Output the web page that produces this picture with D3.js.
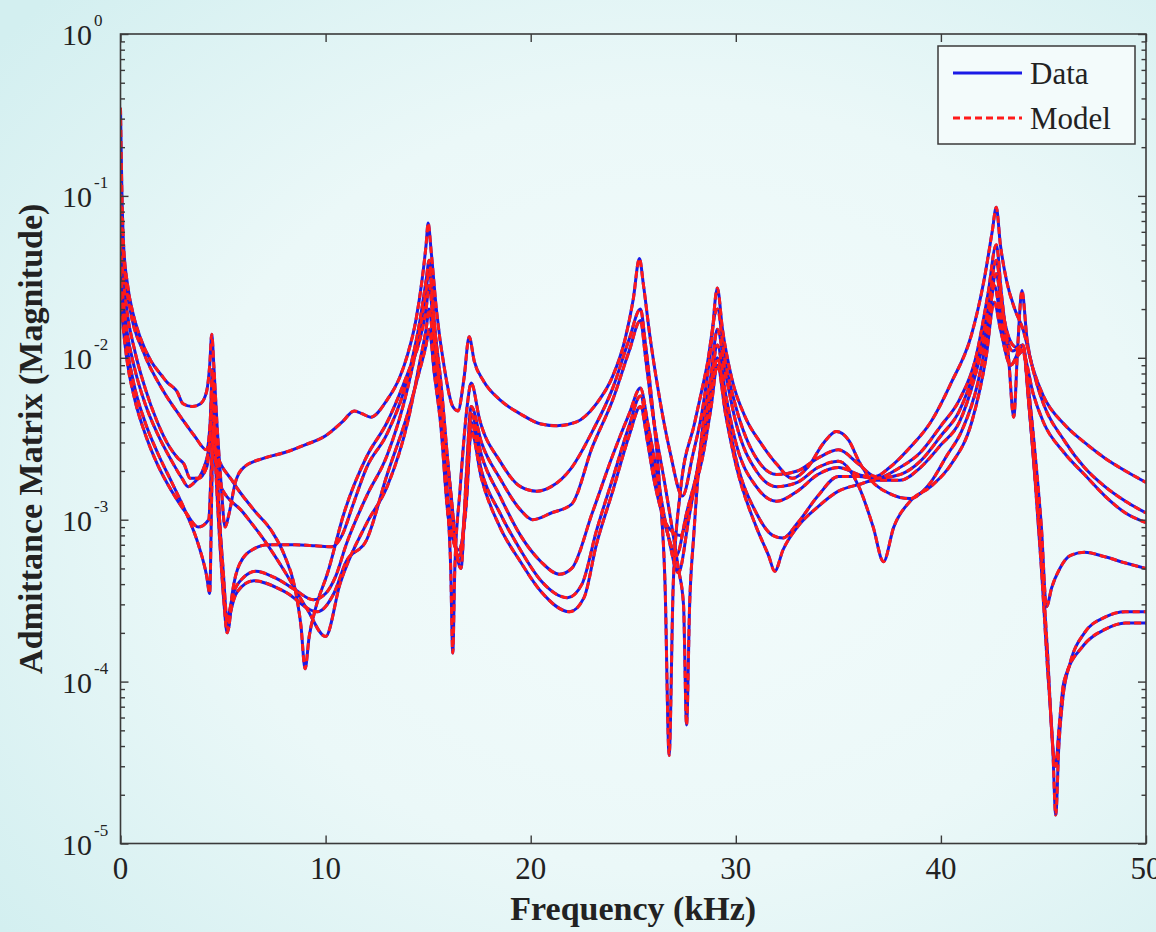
<!DOCTYPE html>
<html><head><meta charset="utf-8">
<script src="https://cdnjs.cloudflare.com/ajax/libs/d3/7.8.5/d3.min.js"></script>
<style>html,body{margin:0;padding:0;background:#e6f6f6;}svg{display:block;}</style>
</head><body>
<svg id="chart" width="1156" height="932"></svg>
<script>
// ---------- data (frequency kHz, admittance magnitude) ----------
const curve1 = [[0,0.35],[0.06,0.12],[0.15,0.05],[0.35,0.028],[0.6,0.019],[0.95,0.0135],[1.5,0.0095],[2.0,0.0078],[2.3,0.007],[2.55,0.0066],[2.75,0.0062],[3.05,0.0052],[3.5,0.005],[3.9,0.0052],[4.2,0.0062],[4.35,0.009],[4.45,0.014],[4.55,0.009],[4.7,0.004],[4.9,0.0017],[5.1,0.0009],[5.3,0.0011],[5.6,0.0017],[6.0,0.0021],[7.0,0.0024],[8.0,0.0026],[9.0,0.0029],[10.0,0.0033],[10.8,0.004],[11.4,0.0047],[11.8,0.0045],[12.2,0.0043],[13.0,0.0055],[13.6,0.0075],[14.0,0.0105],[14.4,0.017],[14.7,0.03],[14.9,0.05],[15.0,0.068],[15.15,0.045],[15.4,0.02],[15.8,0.0085],[16.2,0.005],[16.45,0.0047],[16.75,0.0075],[17.0,0.0135],[17.25,0.0095],[17.7,0.0072],[18.5,0.0055],[19.5,0.0045],[20.5,0.0039],[21.3,0.0038],[22.2,0.004],[23.2,0.0052],[24.0,0.0077],[24.6,0.013],[25.0,0.023],[25.3,0.041],[25.5,0.028],[25.8,0.014],[26.2,0.0065],[26.8,0.0026],[27.4,0.0014],[27.9,0.0025],[28.4,0.005],[28.8,0.012],[29.1,0.027],[29.35,0.015],[29.8,0.0075],[30.5,0.0042],[31.2,0.003],[32.0,0.0022],[32.75,0.0018],[33.5,0.0021],[34.3,0.003],[34.9,0.0035],[35.5,0.0031],[36.0,0.0023],[36.6,0.00175],[37.5,0.00145],[38.5,0.00135],[39.5,0.0017],[40.3,0.0025],[41.0,0.0035],[41.8,0.007],[42.3,0.015],[42.6,0.028],[42.9,0.018],[43.4,0.009],[43.8,0.011],[44.0,0.012],[44.3,0.006],[44.6,0.0025],[44.9,0.0009],[45.15,0.00029],[45.4,0.00038],[45.8,0.0005],[46.3,0.0006],[47.0,0.00063],[48.0,0.00059],[49.0,0.00054],[50.0,0.0005]];
const curve2 = [[0,0.12],[0.08,0.06],[0.2,0.035],[0.5,0.019],[1.1,0.011],[2.0,0.0065],[3.0,0.0042],[3.6,0.0033],[4.2,0.0027],[4.38,0.0042],[4.48,0.0085],[4.58,0.005],[4.75,0.0015],[5.0,0.0005],[5.25,0.00021],[5.45,0.00035],[5.8,0.00053],[6.5,0.00066],[7.2,0.0007],[8.5,0.0007],[9.5,0.00069],[10.3,0.00068],[10.8,0.0008],[11.3,0.0012],[12.0,0.0021],[13.0,0.0034],[14.0,0.0075],[14.6,0.017],[14.9,0.03],[15.05,0.04],[15.25,0.02],[15.5,0.008],[15.9,0.0015],[16.1,0.0005],[16.2,0.00015],[16.3,0.0005],[16.55,0.0015],[16.9,0.005],[17.1,0.007],[17.5,0.0042],[18.5,0.0023],[19.5,0.0016],[20.3,0.0015],[21.0,0.0016],[22.0,0.0021],[23.0,0.0035],[24.0,0.0065],[24.8,0.013],[25.35,0.02],[25.6,0.012],[25.9,0.0055],[26.3,0.0015],[26.55,0.0004],[26.75,0.000035],[26.95,0.0004],[27.3,0.0015],[28.0,0.004],[28.6,0.009],[29.1,0.02],[29.45,0.01],[30.0,0.005],[31.0,0.0024],[32.0,0.0019],[33.0,0.002],[34.0,0.0024],[35.0,0.0027],[36.0,0.0022],[36.8,0.00185],[37.5,0.0021],[38.5,0.0028],[39.5,0.004],[40.5,0.007],[41.5,0.014],[42.1,0.03],[42.5,0.06],[42.7,0.085],[42.9,0.05],[43.2,0.03],[43.6,0.02],[44.0,0.015],[44.5,0.0085],[45.0,0.0058],[46.0,0.0039],[47.0,0.003],[48.0,0.0024],[49.0,0.002],[50.0,0.0017]];
const curve3 = [[0,0.05],[0.1,0.035],[0.3,0.02],[0.7,0.011],[1.2,0.0065],[1.8,0.004],[2.4,0.0028],[2.8,0.0024],[3.1,0.0022],[3.4,0.0018],[3.8,0.0018],[4.2,0.0021],[4.38,0.0035],[4.5,0.008],[4.6,0.004],[4.8,0.0012],[5.0,0.0004],[5.2,0.00025],[5.5,0.00035],[6.0,0.00044],[6.6,0.00048],[7.5,0.00044],[8.5,0.00037],[9.4,0.00032],[10.0,0.00035],[10.5,0.00045],[11.0,0.0007],[12.0,0.0014],[13.0,0.0025],[14.0,0.0065],[14.6,0.015],[14.9,0.026],[15.05,0.035],[15.3,0.016],[15.6,0.0075],[16.0,0.002],[16.4,0.0006],[16.6,0.0005],[16.85,0.0018],[17.1,0.005],[17.6,0.003],[18.5,0.0018],[19.5,0.00115],[20.1,0.001],[21.0,0.0011],[22.0,0.00125],[23.0,0.0028],[24.0,0.0055],[24.8,0.011],[25.35,0.017],[25.6,0.01],[25.9,0.005],[26.6,0.0015],[27.2,0.0005],[27.45,0.0003],[27.6,0.000054],[27.75,0.0003],[27.95,0.0008],[28.3,0.003],[28.8,0.008],[29.1,0.015],[29.5,0.008],[30.0,0.004],[31.0,0.002],[32.0,0.0016],[33.0,0.0017],[34.0,0.0021],[35.0,0.0023],[36.0,0.0016],[36.7,0.0009],[37.2,0.00055],[37.7,0.0009],[38.5,0.0013],[39.5,0.0016],[40.5,0.0022],[41.5,0.004],[42.2,0.01],[42.6,0.022],[42.9,0.015],[43.4,0.009],[43.8,0.0105],[44.0,0.011],[44.3,0.005],[44.6,0.0017],[44.9,0.0005],[45.2,0.00012],[45.45,0.00004],[45.6,0.000015],[45.75,0.00004],[45.95,0.00008],[46.3,0.00013],[47.0,0.0002],[48.0,0.00025],[49.0,0.00027],[50.0,0.00027]];
const curve4 = [[0,0.035],[0.1,0.025],[0.3,0.015],[0.7,0.0085],[1.2,0.0052],[1.8,0.0034],[2.5,0.0023],[3.0,0.0018],[3.3,0.0016],[3.6,0.0017],[4.0,0.002],[4.35,0.003],[4.48,0.006],[4.6,0.0028],[5.5,0.0017],[6.5,0.00115],[7.4,0.00084],[8.0,0.0006],[8.5,0.00038],[8.8,0.00022],[9.0,0.00012],[9.2,0.00019],[9.5,0.00028],[10.1,0.00047],[10.9,0.0011],[12.0,0.00245],[13.0,0.004],[14.0,0.008],[14.6,0.013],[14.9,0.02],[15.05,0.028],[15.3,0.013],[15.6,0.006],[16.1,0.0015],[16.5,0.00055],[16.85,0.0015],[17.1,0.0045],[17.6,0.0025],[18.5,0.0014],[19.5,0.0008],[20.5,0.00055],[21.4,0.00046],[22.0,0.0005],[23.0,0.0011],[24.0,0.0025],[24.8,0.0045],[25.35,0.0065],[25.7,0.004],[26.0,0.0025],[26.7,0.0008],[27.2,0.00047],[27.7,0.001],[28.3,0.0028],[28.8,0.007],[29.1,0.012],[29.5,0.006],[30.0,0.003],[31.0,0.0016],[32.0,0.0013],[33.0,0.0015],[34.0,0.0019],[35.0,0.0021],[36.0,0.0019],[36.8,0.0018],[38.0,0.0021],[39.0,0.0026],[40.0,0.0038],[40.9,0.0055],[41.7,0.01],[42.3,0.025],[42.7,0.05],[42.95,0.025],[43.3,0.01],[43.55,0.0043],[43.75,0.012],[43.95,0.026],[44.2,0.013],[44.6,0.0075],[45.0,0.0052],[46.0,0.0031],[47.0,0.0021],[48.0,0.0016],[49.0,0.0013],[50.0,0.0011]];
const curve5 = [[0,0.03],[0.1,0.02],[0.3,0.012],[0.7,0.0065],[1.2,0.004],[1.8,0.0026],[2.5,0.0017],[3.2,0.0011],[3.8,0.0007],[4.2,0.00045],[4.35,0.00035],[4.45,0.0015],[4.52,0.0035],[4.62,0.0025],[4.8,0.0017],[6.0,0.0011],[7.0,0.00075],[8.0,0.00048],[9.1,0.00028],[10.0,0.00019],[10.7,0.0004],[12.0,0.00095],[13.0,0.0016],[14.0,0.004],[14.6,0.0095],[14.9,0.015],[15.05,0.02],[15.3,0.01],[15.6,0.005],[16.0,0.0012],[16.5,0.0006],[16.85,0.0013],[17.1,0.004],[17.6,0.002],[18.5,0.0011],[19.5,0.00065],[20.5,0.00042],[21.8,0.00033],[22.5,0.0004],[23.2,0.00085],[24.0,0.0018],[24.8,0.0038],[25.35,0.0058],[25.7,0.0035],[26.0,0.002],[26.7,0.0008],[27.1,0.0006],[27.6,0.0011],[28.3,0.0025],[28.8,0.006],[29.1,0.01],[29.5,0.005],[30.0,0.0024],[31.0,0.0011],[31.8,0.0008],[32.3,0.00077],[33.0,0.00095],[34.0,0.0014],[35.0,0.00185],[36.0,0.00185],[36.8,0.0018],[38.0,0.0019],[39.0,0.0023],[40.0,0.0033],[40.9,0.0047],[41.7,0.009],[42.3,0.02],[42.7,0.04],[43.0,0.02],[43.5,0.012],[44.0,0.011],[44.5,0.006],[45.0,0.004],[46.0,0.0026],[47.0,0.0019],[48.0,0.0014],[49.0,0.0011],[50.0,0.00096]];
const curve6 = [[0,0.025],[0.1,0.017],[0.3,0.01],[0.7,0.0055],[1.2,0.0034],[1.8,0.0022],[2.5,0.0015],[3.2,0.0011],[3.8,0.0009],[4.3,0.001],[4.45,0.0025],[4.55,0.004],[4.65,0.002],[4.85,0.0007],[5.05,0.0003],[5.2,0.0002],[5.35,0.00026],[5.7,0.00036],[6.5,0.00042],[8.0,0.00036],[9.6,0.00027],[10.4,0.00035],[11.0,0.00055],[12.0,0.00075],[13.0,0.0019],[14.0,0.0045],[14.6,0.0085],[14.9,0.012],[15.05,0.015],[15.3,0.008],[15.6,0.004],[16.0,0.001],[16.5,0.00065],[16.85,0.0012],[17.1,0.0035],[17.6,0.0018],[18.5,0.0009],[19.5,0.00055],[20.5,0.00036],[21.9,0.00027],[22.6,0.00033],[23.2,0.0007],[24.0,0.0015],[24.8,0.0033],[25.35,0.005],[25.7,0.003],[26.0,0.0018],[26.7,0.0009],[27.3,0.0008],[27.8,0.0013],[28.4,0.0025],[28.8,0.005],[29.1,0.009],[29.5,0.0045],[30.0,0.0022],[31.0,0.0009],[31.6,0.0006],[31.9,0.00048],[32.3,0.00065],[33.0,0.0009],[34.0,0.0012],[35.0,0.0015],[36.0,0.00165],[36.8,0.00175],[38.0,0.00175],[39.0,0.0021],[40.0,0.0029],[40.9,0.004],[41.7,0.008],[42.3,0.017],[42.7,0.033],[43.0,0.018],[43.5,0.011],[44.0,0.012],[44.3,0.005],[44.6,0.0018],[44.9,0.0006],[45.2,0.00015],[45.45,0.00004],[45.6,0.00003],[45.75,0.00005],[46.0,0.0001],[47.0,0.00017],[48.0,0.00021],[49.0,0.00023],[50.0,0.00023]];
const dataCurves = [curve1, curve2, curve3, curve4, curve5, curve6];
const modelCurves = [curve1, curve2, curve3, curve4, curve5, curve6];
const xTicks = [0, 10, 20, 30, 40, 50];
const yExponents = [0, -1, -2, -3, -4, -5];
const legendLabels = ["Data", "Model"];
const xTitle = "Frequency (kHz)";
const yTitle = "Admittance Matrix (Magnitude)";

// ---------- layout ----------
const L = 120.5, R = 1146, T = 34, B = 843.5;
const svg = d3.select("#chart");
const defs = svg.append("defs");
const grad = defs.append("radialGradient").attr("id","bg").attr("cx","58%").attr("cy","52%").attr("r","75%");
grad.append("stop").attr("offset","0%").attr("stop-color","#f4fcfc");
grad.append("stop").attr("offset","55%").attr("stop-color","#ebf8f8");
grad.append("stop").attr("offset","100%").attr("stop-color","#d3eff0");
svg.append("rect").attr("width",1156).attr("height",932).attr("fill","url(#bg)");
defs.append("clipPath").attr("id","clip").append("rect").attr("x",L).attr("y",T).attr("width",R-L).attr("height",B-T);

const x = d3.scaleLinear().domain([0,50]).range([L,R]);
const y = d3.scaleLog().domain([1e-5,1]).range([B,T]);
const font = "'Liberation Serif','Times New Roman',serif";
const axisColor = "#3a3a3a";

// curves
const line = d3.line().x(d=>x(d[0])).y(d=>y(d[1])).curve(d3.curveMonotoneX);
const plot = svg.append("g").attr("clip-path","url(#clip)");
dataCurves.forEach(c=>{
  plot.append("path").attr("d",line(c)).attr("fill","none").attr("stroke","#1a1ae6").attr("stroke-width",3).attr("stroke-linejoin","round");
});
modelCurves.forEach(c=>{
  plot.append("path").attr("d",line(c)).attr("fill","none").attr("stroke","#ff1a1a").attr("stroke-width",3).attr("stroke-dasharray","7,4");
});

// axes (box + inward ticks)
const ax = svg.append("g");
ax.append("rect").attr("x",L).attr("y",T).attr("width",R-L).attr("height",B-T).attr("fill","none").attr("stroke",axisColor).attr("stroke-width",1.6);
const xAxB = d3.axisBottom(x).tickValues(xTicks).tickSizeInner(-8).tickSizeOuter(0).tickFormat("");
const xAxT = d3.axisTop(x).tickValues(xTicks).tickSizeInner(-8).tickSizeOuter(0).tickFormat("");
ax.append("g").attr("transform",`translate(0,${B})`).call(xAxB);
ax.append("g").attr("transform",`translate(0,${T})`).call(xAxT);
const minorVals = [];
for (let e=-5; e<0; e++) for (let k=2;k<=9;k++) minorVals.push(k*Math.pow(10,e));
const majorVals = yExponents.map(e=>Math.pow(10,e));
[[d3.axisLeft, L, -8, majorVals],[d3.axisLeft, L, -4.5, minorVals],[d3.axisRight, R, -8, majorVals],[d3.axisRight, R, -4.5, minorVals]].forEach(([fn,pos,sz,vals])=>{
  ax.append("g").attr("transform",`translate(${pos},0)`).call(fn(y).tickValues(vals).tickSizeInner(sz).tickSizeOuter(0).tickFormat(""));
});
ax.selectAll(".domain").remove();
ax.selectAll(".tick line").attr("stroke",axisColor).attr("stroke-width",1.4);

// x tick labels
svg.append("g").selectAll("text").data(xTicks).join("text")
  .attr("x",d=>x(d)).attr("y",879).attr("text-anchor","middle")
  .attr("font-family",font).attr("font-size",31).attr("fill","#222").text(d=>d);
// y tick labels 10^e
const yl = svg.append("g").selectAll("g").data(yExponents).join("g");
yl.append("text").attr("x",92).attr("y",e=>y(Math.pow(10,e))+11).attr("text-anchor","end")
  .attr("font-family",font).attr("font-size",30).attr("fill","#222").text("10");
yl.append("text").attr("x",94).attr("y",e=>y(Math.pow(10,e))-8)
  .attr("font-family",font).attr("font-size",17).attr("fill","#222").text(e=>e===0?"0":"-"+(-e));

// axis titles
svg.append("text").attr("x",(L+R)/2).attr("y",920).attr("text-anchor","middle")
  .attr("font-family",font).attr("font-weight","bold").attr("font-size",34).attr("fill","#222").text(xTitle);
svg.append("text").attr("transform",`translate(42,${(T+B)/2}) rotate(-90)`).attr("text-anchor","middle")
  .attr("font-family",font).attr("font-weight","bold").attr("font-size",34).attr("fill","#222").text(yTitle);

// legend
const lg = svg.append("g");
lg.append("rect").attr("x",938).attr("y",46).attr("width",197).attr("height",98).attr("fill","#f3fbfb").attr("stroke",axisColor).attr("stroke-width",1.5);
lg.append("line").attr("x1",953).attr("x2",1022).attr("y1",73).attr("y2",73).attr("stroke","#1a1ae6").attr("stroke-width",3);
lg.append("line").attr("x1",953).attr("x2",1022).attr("y1",118).attr("y2",118).attr("stroke","#ff1a1a").attr("stroke-width",3).attr("stroke-dasharray","7,4");
lg.selectAll("text").data(legendLabels).join("text").attr("x",1030).attr("y",(d,i)=>84+i*45)
  .attr("font-family",font).attr("font-size",31).attr("fill","#222").text(d=>d);
</script>
</body></html>
